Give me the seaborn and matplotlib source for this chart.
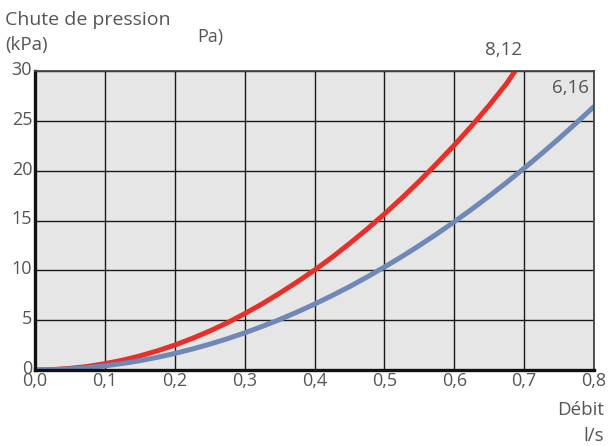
import seaborn as sns
import pandas as pd
import matplotlib.pyplot as plt
import matplotlib.transforms as mtransforms
import numpy as np

sns.set_style('whitegrid', rc={'axes.facecolor': '#e6e6e6', 'grid.color': '#1a1a1a',
                               'grid.linewidth': 1.0, 'axes.edgecolor': '#333333'})
plt.rcParams['font.family'] = ['Open Sans', 'DejaVu Sans']

x_name = 'Débit'
y_name = 'Chute de pression'

# red curve (8,12)
red_x = [0, 0.025, 0.05, 0.075, 0.1, 0.125, 0.15, 0.175, 0.2, 0.225, 0.25, 0.275, 0.3, 0.325, 0.35,
         0.375, 0.4, 0.425, 0.45, 0.475, 0.5, 0.525, 0.55, 0.575, 0.6, 0.625, 0.65, 0.675, 0.69]
red_y = [0, 0.04, 0.16, 0.35, 0.63, 0.98, 1.41, 1.92, 2.5, 3.17, 3.91, 4.73, 5.65, 6.63, 7.7,
         8.83, 10.02, 11.3, 12.68, 14.12, 15.65, 17.25, 18.94, 20.72, 22.55, 24.5, 26.55, 28.75, 30.3]
# blue curve (6,16)
blue_x = [0, 0.025, 0.05, 0.075, 0.1, 0.125, 0.15, 0.175, 0.2, 0.225, 0.25, 0.275, 0.3, 0.325, 0.35,
          0.375, 0.4, 0.425, 0.45, 0.475, 0.5, 0.525, 0.55, 0.575, 0.6, 0.625, 0.65, 0.675, 0.7,
          0.725, 0.75, 0.775, 0.8]
blue_y = [0, 0.03, 0.1, 0.23, 0.41, 0.65, 0.93, 1.27, 1.66, 2.1, 2.59, 3.13, 3.72, 4.37, 5.06,
          5.81, 6.61, 7.46, 8.36, 9.32, 10.33, 11.38, 12.49, 13.65, 14.87, 16.13, 17.45, 18.82, 20.24,
          21.71, 23.23, 24.81, 26.43]

x_ticks = [0, 0.1, 0.2, 0.3, 0.4, 0.5, 0.6, 0.7, 0.8]
y_ticks = [0, 5, 10, 15, 20, 25, 30]

data = pd.concat([
    pd.DataFrame({x_name: red_x, y_name: red_y, 'courbe': '8,12'}),
    pd.DataFrame({x_name: blue_x, y_name: blue_y, 'courbe': '6,16'}),
])

fig = plt.figure(figsize=(6.09, 4.46), dpi=100)
ax = fig.add_axes([35 / 609, 1 - 370 / 446, 559 / 609, 299 / 446])
sns.lineplot(data=data, x=x_name, y=y_name, hue='courbe', palette={'8,12': '#e5312a', '6,16': '#7088b6'},
             linewidth=3.6, legend=False, ax=ax, sort=True)
for line in ax.get_lines():
    line.set_solid_joinstyle('round')
    line.set_solid_capstyle('round')

ax.set_xlim(0, 0.8)
ax.set_ylim(0, 30)
ax.set_xticks(x_ticks)
ax.set_xticklabels([f'{t:.1f}'.replace('.', ',') for t in x_ticks])
ax.set_yticks(y_ticks)
ax.tick_params(axis='both', labelsize=13, labelcolor='#555555', length=0)
ax.tick_params(axis='x', pad=1.5)
ax.tick_params(axis='y', pad=2)
# nudge y labels slightly upward so "0" clears "0,0"
shift = mtransforms.ScaledTranslation(0, 3 / 100, fig.dpi_scale_trans)
for lab in ax.get_yticklabels():
    lab.set_transform(lab.get_transform() + shift)
ax.set_xlabel('')
ax.set_ylabel('')
ax.grid(True, color='#1a1a1a', linewidth=1.0)
ax.spines['left'].set_linewidth(2.4)
ax.spines['left'].set_color('#111111')
ax.spines['bottom'].set_linewidth(2.4)
ax.spines['bottom'].set_color('#111111')
for s in ['top', 'right']:
    ax.spines[s].set_linewidth(1.3)
    ax.spines[s].set_color('#444444')

grey = '#555555'
fig.text(5 / 609, 1 - 20 / 446, 'Chute de pression', fontsize=14, color=grey, va='center', ha='left')
fig.text(5 / 609, 1 - 45 / 446, '(kPa)', fontsize=13.5, color=grey, va='center', ha='left')
fig.text(197 / 609, 1 - 37 / 446, 'Pa)', fontsize=13, color=grey, va='center', ha='left')
fig.text(503 / 609, 1 - 50 / 446, '8,12', fontsize=13.5, color=grey, va='center', ha='center')
fig.text(570 / 609, 1 - 88 / 446, '6,16', fontsize=13.5, color=grey, va='center', ha='center')
fig.text(604 / 609, 1 - 410 / 446, 'Débit', fontsize=13.5, color=grey, va='center', ha='right')
fig.text(604 / 609, 1 - 436 / 446, 'l/s', fontsize=13.5, color=grey, va='center', ha='right')

plt.savefig('out.png', dpi=100)
